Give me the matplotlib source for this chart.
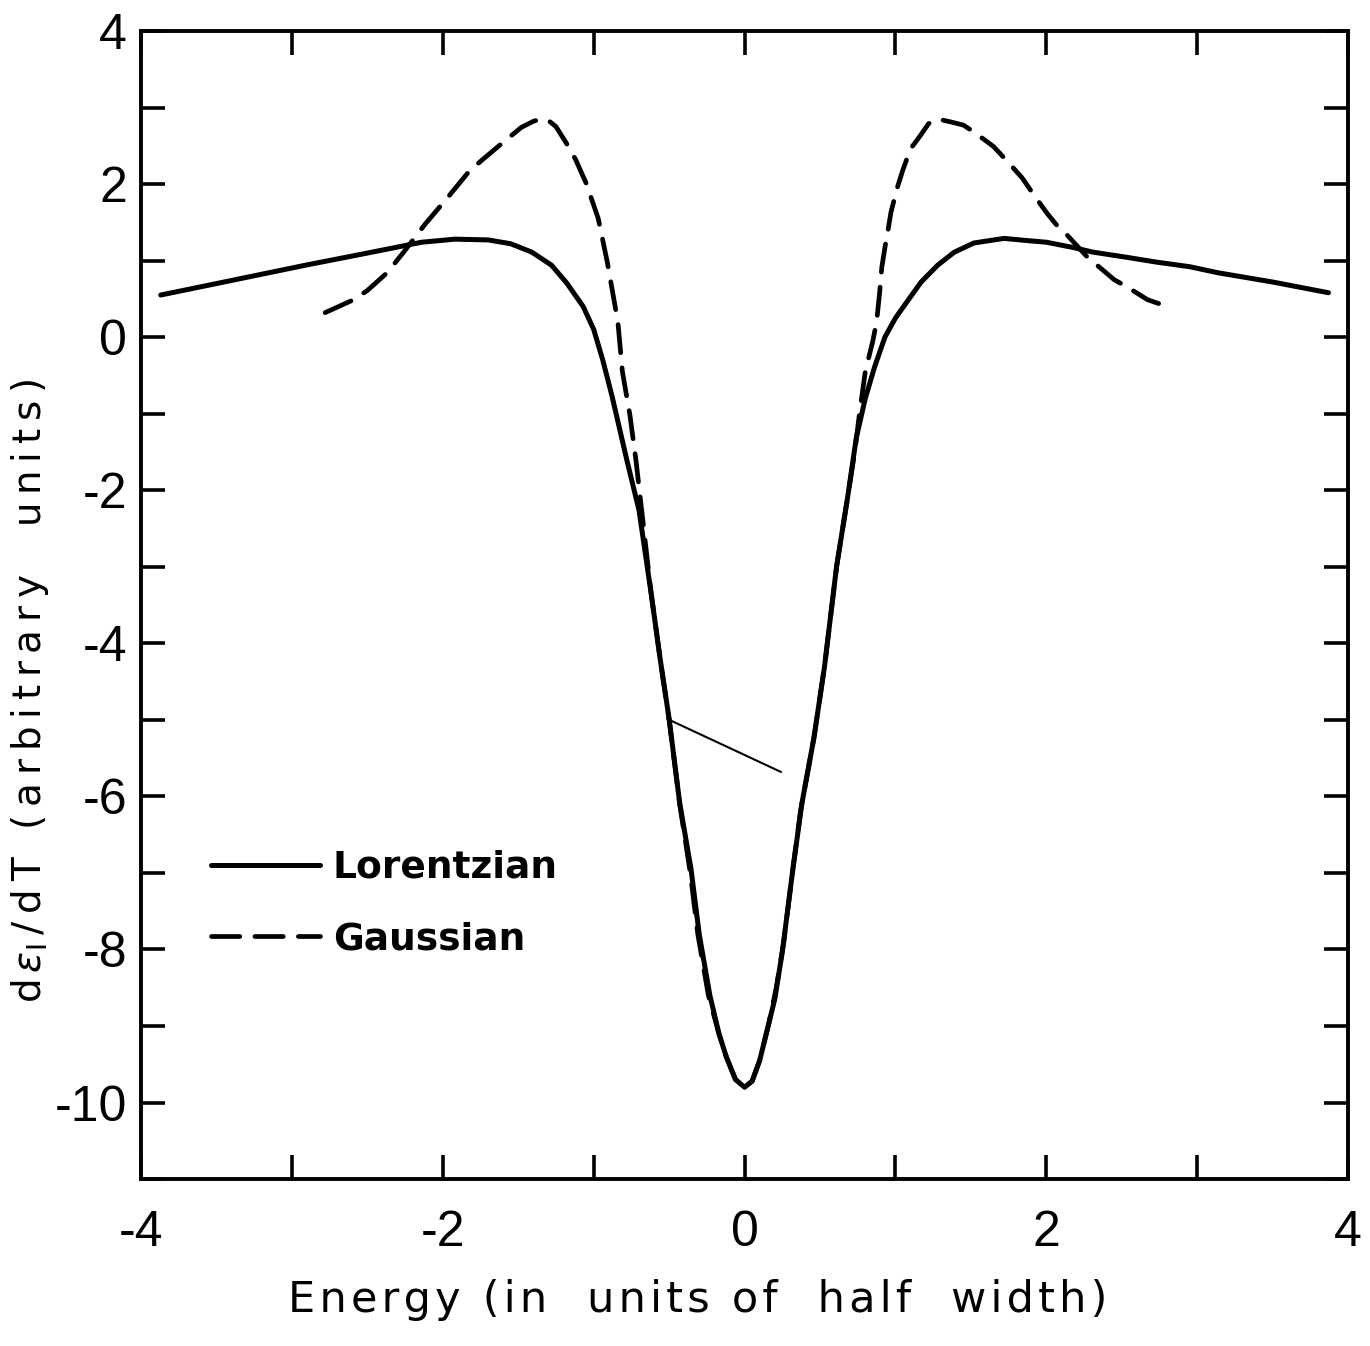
import matplotlib
matplotlib.use("Agg")
import matplotlib.pyplot as plt
from matplotlib.ticker import MultipleLocator, FuncFormatter

# Lorentzian curve (solid)
lor_x = [-3.87, -3.5, -2.91, -2.47, -2.14, -1.92, -1.7, -1.55, -1.41, -1.28, -1.18, -1.07,
         -1.0, -0.94, -0.88, -0.78, -0.70, -0.62, -0.56, -0.50, -0.43, -0.355, -0.30,
         -0.23, -0.17, -0.12, -0.06, 0.0,
         0.05, 0.10, 0.16, 0.20, 0.25, 0.32, 0.38, 0.46, 0.53, 0.61, 0.68, 0.74, 0.80,
         0.86, 0.93, 1.0, 1.09, 1.17, 1.28, 1.39, 1.52, 1.72, 1.88, 2.0, 2.18, 2.31, 2.51,
         2.73, 2.95, 3.14, 3.5, 3.87]
lor_y = [0.55, 0.7, 0.94, 1.11, 1.24, 1.28, 1.27, 1.22, 1.11, 0.94, 0.71, 0.40,
         0.1, -0.3, -0.76, -1.61, -2.26, -3.34, -4.2, -4.99, -6.09, -6.95, -7.81,
         -8.6, -9.1, -9.41, -9.7, -9.8,
         -9.72, -9.45, -8.97, -8.65, -8.03, -6.95, -6.09, -5.23, -4.3, -2.99, -2.13, -1.32, -0.8,
         -0.4, 0.0, 0.25, 0.5, 0.72, 0.94, 1.11, 1.23, 1.29, 1.26, 1.24, 1.17, 1.11, 1.05,
         0.98, 0.92, 0.84, 0.72, 0.58]

# Gaussian curve (dashed)
gau_x = [-2.78, -2.59, -2.50, -2.37, -2.26, -2.12, -1.97, -1.82, -1.64, -1.48, -1.40, -1.35,
         -1.30, -1.25, -1.18, -1.12, -1.05, -0.97, -0.91, -0.84, -0.81, -0.76, -0.72, -0.68,
         -0.62, -0.56, -0.50, -0.43, -0.36, -0.31, -0.24, -0.17, -0.12, -0.06, 0.0,
         0.05, 0.10, 0.16, 0.21, 0.26, 0.31, 0.37, 0.46, 0.53, 0.61, 0.68, 0.73, 0.76,
         0.80, 0.85, 0.875, 0.895, 0.91, 0.93, 0.95, 0.97, 1.01, 1.05, 1.10, 1.16, 1.22,
         1.28, 1.37, 1.45, 1.52, 1.65, 1.74, 1.84, 1.92, 2.0, 2.07, 2.13, 2.27, 2.36,
         2.45, 2.54, 2.67, 2.8]
gau_y = [0.32, 0.49, 0.61, 0.84, 1.11, 1.47, 1.82, 2.18, 2.48, 2.74, 2.82, 2.85,
         2.83, 2.75, 2.53, 2.32, 2.01, 1.55, 0.98, 0.2, -0.45, -1.02, -1.61, -2.3,
         -3.34, -4.2, -5.0, -6.1, -7.0, -7.8, -8.6, -9.1, -9.41, -9.7, -9.8,
         -9.72, -9.45, -8.97, -8.5, -7.9, -7.1, -6.2, -5.23, -4.3, -3.0, -2.13, -1.5, -1.02,
         -0.45, -0.05, 0.2, 0.58, 0.92, 1.17, 1.39, 1.63, 1.94, 2.19, 2.46, 2.62, 2.79,
         2.85, 2.81, 2.77, 2.68, 2.49, 2.30, 2.08, 1.85, 1.63, 1.46, 1.35, 1.05, 0.9,
         0.75, 0.65, 0.49, 0.4]

# stray thin line present in the original figure
stray_x = [-0.51, 0.24]
stray_y = [-4.99, -5.68]

x_ticks = [-4, -2, 0, 2, 4]
y_ticks = [4, 2, 0, -2, -4, -6, -8, -10]

plt.rcParams['font.family'] = ['Liberation Sans', 'DejaVu Sans']
plt.rcParams['mathtext.fontset'] = 'dejavusans'

fig = plt.figure(figsize=(13.7, 13.46), dpi=100)
ax = fig.add_axes([0.103, 0.124, 0.881, 0.853])

ax.plot(lor_x, lor_y, color='black', lw=3.6, solid_capstyle='round',
        solid_joinstyle='round', label='Lorentzian')
ax.plot(gau_x, gau_y, color='black', lw=3.4, dashes=(6, 3.2),
        dash_joinstyle='round', dash_capstyle='round', label='Gaussian')
ax.plot(stray_x, stray_y, color='black', lw=1.5)

ax.set_xlim(-4, 4)
ax.set_ylim(-11, 4)

ax.set_xticks(x_ticks)
ax.set_yticks(y_ticks)
ax.xaxis.set_minor_locator(MultipleLocator(1))
ax.yaxis.set_minor_locator(MultipleLocator(1))

def fmt(v, pos):
    v = int(round(v))
    return ('-' + str(-v)) if v < 0 else str(v)

ax.xaxis.set_major_formatter(FuncFormatter(fmt))
ax.yaxis.set_major_formatter(FuncFormatter(fmt))

ax.tick_params(which='both', direction='in', length=17, width=2.6,
               top=True, right=True, labelsize=36)
ax.tick_params(axis='x', pad=22)
ax.tick_params(axis='y', pad=10)
for s in ax.spines.values():
    s.set_linewidth(2.8)


def spaced(s, sp):
    return sp.join(s)

xlab = spaced('Energy (in  units of  half  width)', '\u200a')
fig.text(0.509, 0.034, xlab, fontsize=31,
         ha='center', va='center', family=['DejaVu Sans'])

ylab = (r'd$\,\epsilon_{\mathrm{I}}$' + '\u2009/\u2009' +
        spaced('dT (arbitrary  units)', '\u2009'))
fig.text(0.022, 0.487, ylab, fontsize=28,
         rotation=90, ha='center', va='center', family=['DejaVu Sans'])

leg = ax.legend(loc='center left', bbox_to_anchor=(0.058, 0.240), frameon=False,
                handlelength=2.9, handletextpad=0.35, labelspacing=0.95,
                borderpad=0, borderaxespad=0,
                prop={'weight': 'bold', 'size': 27, 'family': 'DejaVu Sans'})

fig.savefig('out.png', dpi=100, facecolor='white')
